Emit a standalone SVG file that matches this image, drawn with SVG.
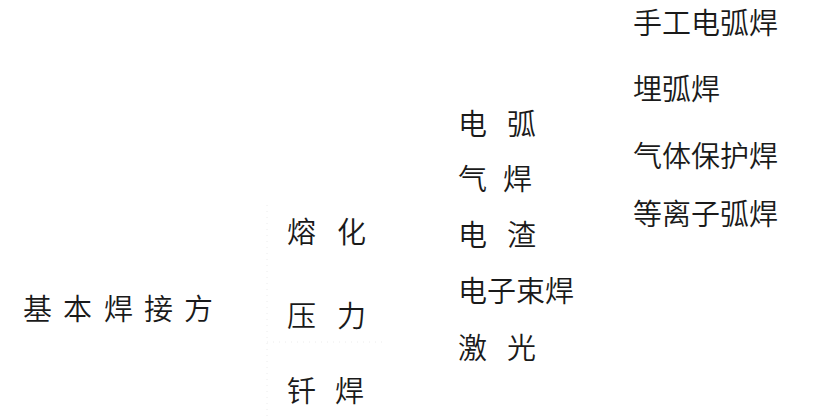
<svg xmlns="http://www.w3.org/2000/svg" width="817" height="419" viewBox="0 0 817 419">
<style>
text{font-family:"Noto Sans CJK SC","Noto Sans",sans-serif;font-size:29px;font-weight:350;fill:#1a1a1a}
.c{fill:none;stroke:#ececec;stroke-width:1;stroke-dasharray:1 5}
</style>
<rect width="817" height="419" fill="#fff"/>
<g id="connectors">
<path class="c" d="M267 205V418"/>
<path class="c" d="M267 342H385"/>
</g>
<g id="root"><text x="23 63 104 144 184" y="320">基本焊接方</text></g>
<g id="ronghua"><text x="287 337" y="243">熔化</text></g>
<g id="yali"><text x="287 337" y="327">压力</text></g>
<g id="qianhan"><text x="287 335" y="402">钎焊</text></g>
<g id="dianhu"><text x="458 507" y="135">电弧</text></g>
<g id="qihan"><text x="458 503" y="190">气焊</text></g>
<g id="dianzha"><text x="458 507" y="246">电渣</text></g>
<g id="dianzishu"><text x="458" y="302">电子束焊</text></g>
<g id="jiguang"><text x="458 507" y="359">激光</text></g>
<g id="shougong"><text x="633" y="34">手工电弧焊</text></g>
<g id="maihu"><text x="633" y="100">埋弧焊</text></g>
<g id="qiti"><text x="633" y="167">气体保护焊</text></g>
<g id="dengli"><text x="633" y="225">等离子弧焊</text></g>
</svg>
